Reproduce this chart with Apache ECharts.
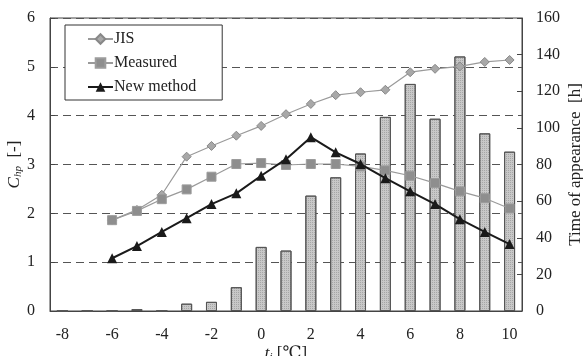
<!DOCTYPE html>
<html>
<head>
<meta charset="utf-8">
<script src="https://cdn.jsdelivr.net/npm/echarts@6/dist/echarts.min.js"></script>
<style>
  html, body { margin: 0; padding: 0; background: #fff; }
  #chart { width: 583px; height: 356px; }
</style>
</head>
<body>
<div id="chart"></div>
<script>
// Outdoor temperature bins t_i [°C]
const categories = ['-8', '-7', '-6', '-5', '-4', '-3', '-2', '-1', '0', '1', '2', '3', '4', '5', '6', '7', '8', '9', '10'];

// Heating capacity ratio C_hp [-] (left axis)
const jis       = [null, null, 1.86, 2.07, 2.38, 3.16, 3.38, 3.59, 3.79, 4.03, 4.24, 4.42, 4.48, 4.53, 4.89, 4.96, 5.01, 5.10, 5.14];
const measured  = [null, null, 1.86, 2.05, 2.29, 2.49, 2.75, 3.01, 3.03, 2.99, 3.01, 3.01, 2.96, 2.88, 2.77, 2.62, 2.45, 2.31, 2.10];
const newMethod = [null, null, 1.08, 1.33, 1.62, 1.90, 2.19, 2.41, 2.77, 3.11, 3.56, 3.25, 3.01, 2.72, 2.45, 2.19, 1.88, 1.62, 1.37];

// Time of appearance [h] (right axis)
const hours = [0, 0, 0, 1, 0, 4, 5, 13, 35, 33, 63, 73, 86, 106, 124, 105, 139, 97, 87];

const leftTicks = [0, 1, 2, 3, 4, 5, 6];
const rightTicks = [0, 20, 40, 60, 80, 100, 120, 140, 160];

const serif = '"Liberation Serif", "DejaVu Serif", serif';
const ink = '#222';

const chart = echarts.init(document.getElementById('chart'), null, { renderer: 'canvas' });

chart.setOption({
  animation: false,
  backgroundColor: '#fff',
  textStyle: { fontFamily: serif },
  grid: {
    left: 50, right: 61, top: 18, bottom: 45,
    show: true, borderColor: '#444', borderWidth: 1,
    containLabel: false,
    outerBoundsMode: 'none'
  },
  legend: {
    data: ['JIS', 'Measured', 'New method'],
    orient: 'vertical',
    left: 65, top: 25,
    padding: [6, 26, 5, 22],
    itemGap: 8,
    itemWidth: 25, itemHeight: 12,
    backgroundColor: '#fff',
    borderColor: '#333', borderWidth: 1,
    textStyle: { fontFamily: serif, fontSize: 16, color: ink, padding: [0, 0, 0, -4] }
  },
  xAxis: {
    type: 'category',
    data: categories,
    boundaryGap: true,
    axisLine: { lineStyle: { color: '#444', width: 1 } },
    axisTick: { show: false },
    axisLabel: { interval: 1, fontFamily: serif, fontSize: 16, color: ink, margin: 16 },
    name: '{i|t}{sub|i} [℃]',
    nameLocation: 'middle',
    nameGap: 33,
    nameMoveOverlap: false,
    nameTextStyle: {
      fontFamily: serif, fontSize: 17, color: ink,
      rich: {
        i: { fontFamily: serif, fontStyle: 'italic', fontSize: 17, color: ink },
        sub: { fontFamily: serif, fontStyle: 'italic', fontSize: 11, color: ink, verticalAlign: 'bottom', padding: [8, 0, 0, 0] }
      }
    }
  },
  yAxis: [
    {
      type: 'value',
      min: leftTicks[0], max: leftTicks[leftTicks.length - 1], interval: 1,
      axisLine: { show: true, lineStyle: { color: '#444' } },
      axisTick: { show: true, inside: true, length: 5, lineStyle: { color: '#444' } },
      axisLabel: { fontFamily: serif, fontSize: 16, color: ink, margin: 15 },
      splitLine: { show: true, lineStyle: { color: '#555', type: [8, 5], width: 1 } },
      name: '{i|C}{sub|hp}  [-]',
      nameLocation: 'middle',
      nameRotate: 90,
      nameGap: 26,
      nameMoveOverlap: false,
      nameTextStyle: {
        fontFamily: serif, fontSize: 17, color: ink,
        rich: {
          i: { fontFamily: serif, fontStyle: 'italic', fontSize: 17, color: ink },
          sub: { fontFamily: serif, fontStyle: 'italic', fontSize: 11, color: ink, verticalAlign: 'bottom', padding: [8, 0, 0, 0] }
        }
      }
    },
    {
      type: 'value',
      position: 'right',
      min: rightTicks[0], max: rightTicks[rightTicks.length - 1], interval: 20,
      axisLine: { show: true, lineStyle: { color: '#444' } },
      axisTick: { show: true, inside: true, length: 5, lineStyle: { color: '#444' } },
      axisLabel: { fontFamily: serif, fontSize: 16, color: ink, margin: 14 },
      splitLine: { show: false },
      name: 'Time of appearance  [h]',
      nameLocation: 'middle',
      nameRotate: 90,
      nameGap: 45,
      nameMoveOverlap: false,
      nameTextStyle: { fontFamily: serif, fontSize: 17, color: ink }
    }
  ],
  series: [
    {
      name: 'Hours',
      type: 'bar',
      yAxisIndex: 1,
      data: hours,
      barWidth: 11,
      z: 1,
      itemStyle: {
        color: '#c8c8c8',
        borderColor: '#555',
        borderWidth: 1,
        decal: {
          symbol: 'rect', symbolSize: 1, dashArrayX: [1, 1], dashArrayY: [1, 1],
          color: 'rgba(90,90,90,0.3)', rotation: 0
        }
      }
    },
    {
      name: 'JIS',
      type: 'line',
      yAxisIndex: 0,
      data: jis,
      z: 3,
      symbol: 'diamond',
      symbolSize: 9,
      lineStyle: { color: '#9a9a9a', width: 1.2 },
      itemStyle: { color: '#a8a8a8', borderColor: '#888', borderWidth: 1 }
    },
    {
      name: 'Measured',
      type: 'line',
      yAxisIndex: 0,
      data: measured,
      z: 4,
      symbol: 'rect',
      symbolSize: 9,
      lineStyle: { color: '#9a9a9a', width: 1.2 },
      itemStyle: { color: '#8e8e8e', borderColor: '#9c9c9c', borderWidth: 1 }
    },
    {
      name: 'New method',
      type: 'line',
      yAxisIndex: 0,
      data: newMethod,
      z: 5,
      symbol: 'triangle',
      symbolSize: 10,
      lineStyle: { color: '#1a1a1a', width: 2 },
      itemStyle: { color: '#1a1a1a' }
    }
  ]
});
</script>
</body>
</html>
